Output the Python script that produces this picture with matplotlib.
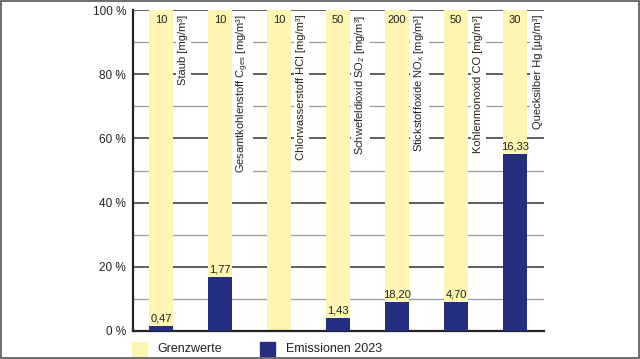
import numpy as np
import matplotlib.pyplot as plt
from matplotlib.patches import Rectangle

plt.rcParams['font.family'] = ['Liberation Sans', 'DejaVu Sans']
plt.rcParams['mathtext.fontset'] = 'custom'
plt.rcParams['mathtext.rm'] = 'Liberation Sans'
plt.rcParams['mathtext.it'] = 'Liberation Sans'

# data
labels = ["Staub [mg/m³]",
          "Gesamtkohlenstoff C$_{\\mathrm{ges}}$ [mg/m³]",
          "Chlorwasserstoff HCl [mg/m³]",
          "Schwefeldioxid SO$_{\\mathrm{2}}$ [mg/m³]",
          "Stickstoffoxide NO$_{\\mathrm{x}}$ [mg/m³]",
          "Kohlenmonoxid CO [mg/m³]",
          "Quecksilber Hg [µg/m³]"]
limits = ["10", "10", "10", "50", "200", "50", "30"]
emission_text = ["0,47", "1,77", "", "1,43", "18,20", "4,70", "16,33"]
limit_pct = [100, 100, 100, 100, 100, 100, 100]
emission_pct = [1.6, 16.9, 0, 4.1, 9.1, 9.1, 55.2]

yellow = "#FFF5B3"
blue = "#232E80"

fig = plt.figure(figsize=(6.4, 3.59), dpi=100)
ax = fig.add_axes([0.2078, 0.078, 0.6422, 0.894])

x = np.arange(len(labels))
w = 0.41
ax.bar(x, limit_pct, width=w, color=yellow, zorder=2)
ax.bar(x, emission_pct, width=w, color=blue, zorder=3)

for i in x:
    ax.text(i, 98.6, limits[i], ha='center', va='top', fontsize=8, color='#222222', zorder=4)
    ax.text(i + 0.38, 98.6, labels[i], rotation=90, ha='center', va='top',
            fontsize=8, color='#222222', zorder=1.5,
            bbox=dict(facecolor='white', edgecolor='none', pad=2))
    if emission_text[i]:
        ax.text(i, emission_pct[i] + 0.6, emission_text[i], ha='center', va='bottom',
                fontsize=8, color='#222222', zorder=4)

ax.set_xlim(-0.475, 6.49)
ax.set_ylim(0, 100)
ax.set_yticks(np.arange(0, 101, 20))
ax.set_yticklabels([f"{v} %" for v in range(0, 101, 20)], fontsize=8.5, color='#222222')
ax.set_yticks(np.arange(10, 100, 20), minor=True)
ax.tick_params(axis='y', which='both', length=0, pad=5)
ax.set_xticks([])

for v in range(20, 101, 20):
    ax.axhline(v, color='#333333', lw=1.1, zorder=1)
for v in range(10, 100, 20):
    ax.axhline(v, color='#999999', lw=0.9, zorder=1)

for s in ['top', 'right']:
    ax.spines[s].set_visible(False)
ax.spines['left'].set_linewidth(1.6)
ax.spines['bottom'].set_linewidth(1.6)
ax.spines['left'].set_color('#222222')
ax.spines['bottom'].set_color('#222222')

# legend
fig.patches.append(Rectangle((132 / 640, 1 - 356 / 359), 15 / 640, 14 / 359,
                             transform=fig.transFigure, color=yellow))
fig.text(157 / 640, 1 - 349 / 359, "Grenzwerte", fontsize=9, va='center', color='#222222')
fig.patches.append(Rectangle((260 / 640, 1 - 356 / 359), 15 / 640, 14 / 359,
                             transform=fig.transFigure, color=blue))
fig.text(286 / 640, 1 - 349 / 359, "Emissionen 2023", fontsize=9, va='center', color='#222222')

# image frame
fig.patches.append(Rectangle((0.001, 0.002), 0.997, 0.995, transform=fig.transFigure,
                             fill=False, edgecolor='#555555', lw=1.2))

fig.savefig("out.png", dpi=100)
